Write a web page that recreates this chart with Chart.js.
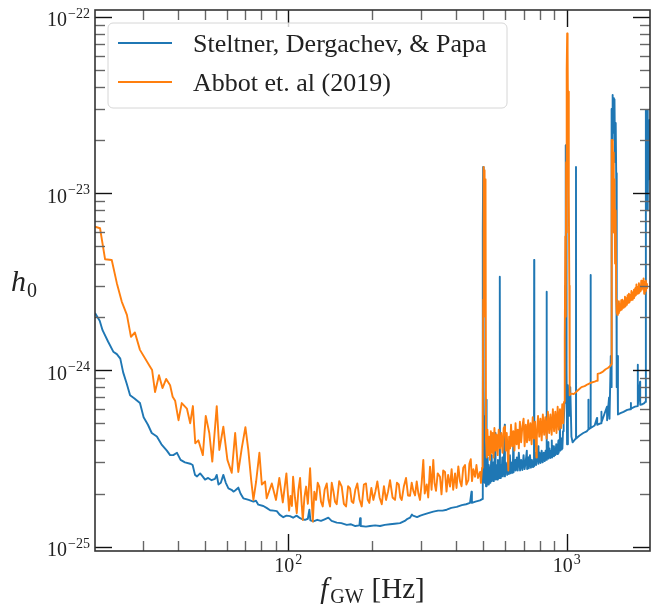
<!DOCTYPE html>
<html>
<head>
<meta charset="utf-8">
<script src="https://cdn.jsdelivr.net/npm/chart.js@4.4.1/dist/chart.umd.min.js"></script>
<style>
  html, body { margin: 0; padding: 0; background: #fff; }
  canvas { display: block; }
</style>
</head>
<body>
<canvas id="chart" width="652" height="606"></canvas>
<script>
// series labels
const seriesLabels = ['Steltner, Dergachev, & Papa', 'Abbot et. al (2019)'];
const seriesColors = ['#1f77b4', '#ff7f0e'];

// [frequency in Hz, h0 in units of 1e-25]
const steltnerPoints = [
  [20.2, 21.0], [21.0, 19.0], [21.5, 16.8], [22.5, 14.5], [23.5, 12.7], [24.2, 12.3], [24.9, 11.6], [25.5, 9.7],
  [26.3, 8.3], [27.0, 7.2], [28.0, 6.9], [29.3, 6.5], [30.2, 5.4], [31.3, 4.9], [32.3, 4.4], [33.7, 4.2],
  [35.0, 3.8], [36.6, 3.5], [37.6, 3.3], [38.6, 3.3], [39.8, 3.4], [41.0, 3.1], [42.5, 3.0], [44.4, 2.95],
  [45.3, 2.9], [46.2, 2.55], [47.0, 2.5], [48.2, 2.6], [49.2, 2.5], [50.2, 2.4], [51.5, 2.45], [53.0, 2.38],
  [54.5, 2.42], [55.3, 2.55], [56.1, 2.25], [57.2, 2.3], [58.4, 2.55], [59.6, 2.3], [60.9, 2.14], [62.5, 2.1],
  [63.5, 2.05], [64.4, 2.08], [66.1, 2.16], [67.3, 2.0], [68.9, 1.88], [70.5, 1.86], [72.0, 1.84], [74.9, 1.8],
  [76.5, 1.82], [78.0, 1.73], [81.3, 1.7], [83.5, 1.66], [86.0, 1.61], [88.5, 1.6], [90.9, 1.59], [93.0, 1.52],
  [95.9, 1.47], [98.5, 1.5], [101.4, 1.49], [104.0, 1.46], [107.0, 1.5], [110.2, 1.45], [112.5, 1.43], [114.8, 1.42],
  [117.5, 1.44], [119.0, 1.62], [120.0, 1.41], [123.0, 1.39], [127.0, 1.42], [131.0, 1.4], [135.0, 1.43], [139.2, 1.46],
  [143.0, 1.4], [149.2, 1.37], [155.0, 1.36], [162.1, 1.33], [168.0, 1.34], [174.0, 1.31], [180.0, 1.32], [181.0, 1.45],
  [182.0, 1.31], [190.0, 1.3], [196.6, 1.31], [205.0, 1.32], [213.5, 1.31], [222.0, 1.33], [231.9, 1.34], [241.0, 1.35],
  [251.9, 1.36], [262.0, 1.4], [268.0, 1.44], [273.6, 1.46], [278.0, 1.52], [280.5, 1.5], [290.0, 1.47], [298.0, 1.5],
  [305.4, 1.52], [318.0, 1.55], [331.7, 1.58], [345.0, 1.6], [358.0, 1.6], [370.7, 1.62], [385.0, 1.66], [402.7, 1.68],
  [420.0, 1.72], [435.0, 1.74], [449.5, 1.77], [455.0, 2.05], [456.5, 1.77], [470.0, 1.8], [488.3, 1.83], [497.0, 1.86],
  [499.0, 4.0], [500.0, 60], [501.0, 141], [502.0, 70], [503.0, 120], [504.0, 8], [505.5, 2.6], [507, 5.5],
  [508, 2.3], [510, 4.0], [511, 2.4], [512, 3.4], [513, 2.2], [515, 6.8], [516, 2.25], [518, 3.0],
  [520, 3.2], [522, 2.25], [525, 2.9], [527, 2.3], [530, 2.8], [532, 2.3], [536, 3.3], [538, 2.35],
  [542, 2.7], [545, 3.0], [547, 2.35], [550, 2.8], [553, 4.4], [555, 2.4], [559, 2.9], [562, 2.4],
  [566, 3.1], [569, 2.45], [574, 2.45], [575, 33.7], [576, 2.45], [580, 2.9], [583, 2.5], [587, 3.2],
  [590, 2.5], [594, 2.9], [599, 4.9], [600, 2.5], [604, 3.0], [609, 2.8], [611, 2.55], [616, 3.1],
  [620, 2.58], [625, 3.3], [630, 2.6], [636, 3.0], [640, 2.62], [643, 3.9], [645, 2.65], [650, 3.0],
  [654, 3.1], [656, 2.7], [662, 3.2], [667, 2.7], [673, 3.4], [680, 2.7], [686, 3.1], [693, 2.72],
  [700, 3.3], [706, 2.75], [712, 3.0], [719, 3.5], [721, 2.75], [729, 3.2], [731, 2.78], [738, 3.3],
  [744, 2.8], [750, 3.1], [756, 2.82], [763, 2.85], [764, 42], [765, 2.87], [771, 3.4], [777, 2.9],
  [784, 3.3], [790, 3.7], [792, 2.95], [799, 3.4], [806, 2.98], [813, 3.5], [820, 3.0], [827, 3.4],
  [834, 3.05], [840, 3.5], [846, 3.1], [847, 27.7], [848, 3.1], [853, 3.5], [858, 3.9], [860, 3.15],
  [867, 3.6], [874, 3.18], [880, 3.5], [884, 4.0], [886, 3.2], [893, 3.7], [900, 3.25], [906, 3.6],
  [910, 3.3], [917, 3.8], [924, 3.35], [930, 3.7], [934, 4.0], [936, 3.4], [941, 3.9], [945, 5.2],
  [948, 3.5], [954, 4.1], [959, 3.55], [965, 3.6], [970, 4.5], [975, 5.0], [982, 6.5], [986, 8.1],
  [989, 30], [991, 187], [993, 40], [996, 120], [999, 10], [1003, 3.8], [1010, 8.2], [1020, 5.5],
  [1030, 8.0], [1040, 4.2], [1050, 3.9], [1079, 4.1], [1080, 141], [1081, 4.1], [1110, 4.25], [1147, 4.4],
  [1180, 4.5], [1195, 4.6], [1196, 6.8], [1198, 4.6], [1218, 4.7], [1219, 34.5], [1220, 4.7], [1260, 4.85],
  [1285, 5.36], [1287, 4.9], [1330, 5.0], [1332, 5.8], [1334, 5.05], [1395, 6.2], [1397, 5.2], [1420, 7.0],
  [1425, 5.3], [1440, 12], [1447, 8], [1450, 300], [1455, 200], [1460, 360], [1465, 250], [1470, 345],
  [1478, 220], [1485, 340], [1492, 150], [1500, 250], [1506, 130], [1510, 19], [1515, 8], [1522, 12],
  [1528, 5.6], [1560, 5.7], [1600, 5.8], [1650, 5.95], [1690, 6.0], [1700, 6.5], [1702, 6.05], [1760, 6.2],
  [1799, 6.25], [1800, 10.7], [1802, 6.3], [1835, 8.6], [1837, 6.35], [1870, 6.4], [1900, 6.5], [1915, 6.6],
  [1925, 296], [1935, 150], [1945, 296], [1955, 80], [1965, 250], [1975, 120], [1985, 260], [1992, 200]
];

// [frequency in Hz, h0 in units of 1e-25]
const abbotPoints = [
  [20.2, 64.7], [21.06, 63.4], [21.96, 42.3], [23.2, 41.9], [24.2, 31], [25.2, 24.4], [26.3, 20.5], [27.2, 15.4],
  [28.1, 16.3], [29.3, 13.0], [31.9, 10.4], [32.4, 10.0], [33.2, 7.5], [34.3, 9.35], [35.3, 7.9], [36.4, 8.9],
  [37.6, 8.2], [38.4, 7.06], [39.2, 6.7], [40.3, 5.2], [41.4, 6.5], [43.2, 6.05], [44.4, 5.0], [45.4, 6.25],
  [46.3, 3.85], [47.5, 4.0], [49.3, 3.3], [50.5, 5.5], [52.0, 4.4], [53.3, 3.03], [55.3, 6.25], [56.5, 3.53],
  [58.4, 4.78], [60.4, 3.1], [62.6, 2.62], [64.4, 4.4], [66.1, 2.65], [68.0, 3.6], [70.1, 4.75], [71.8, 3.53],
  [73.5, 2.4], [74.9, 1.84], [76.6, 2.34], [78.7, 3.4], [80.3, 2.25], [82.5, 2.34], [83.6, 1.88], [87.2, 2.28],
  [90.3, 1.84], [92.8, 2.45], [95.5, 1.78], [98.4, 2.6], [100.6, 1.6], [101.8, 1.94], [103, 1.7], [104.0, 2.49],
  [105.6, 1.9], [107.2, 1.55], [108.7, 2.1], [110.2, 2.45], [111.5, 1.8], [112.7, 1.42], [114.2, 1.9], [115.8, 2.19],
  [117.5, 1.75], [119.7, 2.78], [121, 2.0], [122.4, 1.39], [124, 2.05], [125.8, 1.84], [127.5, 2.3], [129.2, 2.19],
  [131, 1.8], [132.9, 1.69], [135, 2.1], [137.4, 2.28], [139.3, 1.85], [141.2, 1.69], [143.2, 2.3], [145.1, 2.07],
  [147.1, 1.8], [149.2, 1.74], [152.3, 2.35], [155.5, 2.19], [158.3, 1.75], [161.2, 1.69], [163.9, 2.2], [166.6, 2.14],
  [168.9, 1.8], [171.2, 1.77], [174, 2.1], [176.9, 2.28], [180.2, 1.85], [183.5, 1.69], [186.8, 2.25], [190.1, 2.28],
  [192.7, 1.85], [195.4, 1.77], [198.7, 2.15], [202.0, 1.84], [205.4, 2.05], [208.8, 2.34], [212.7, 1.9], [216.6, 1.74],
  [220.5, 2.2], [224.4, 1.84], [228.1, 2.05], [231.9, 2.38], [236.8, 1.9], [241.7, 1.84], [245.5, 2.3], [249.3, 2.25],
  [252.4, 1.9], [255.5, 1.84], [260.1, 2.2], [264.7, 2.45], [269.1, 1.95], [273.6, 1.94], [277.4, 2.3], [281.2, 2.07],
  [285.2, 1.95], [289.2, 2.34], [293.2, 2.0], [297.2, 1.84], [301.3, 2.3], [305.4, 3.1], [309, 2.0], [314.2, 2.25],
  [318, 1.9], [322.8, 2.84], [327, 2.1], [331.7, 3.1], [335, 2.3], [339.2, 2.07], [344, 2.6], [350.6, 2.49],
  [355, 1.98], [360, 2.7], [365.4, 2.65], [370, 2.05], [375, 2.55], [380.9, 2.19], [386, 2.75], [391, 2.1],
  [397.1, 2.6], [402, 2.15], [408, 2.85], [413.9, 2.34], [419, 2.2], [425, 2.8], [431.3, 2.9], [436, 2.25],
  [443.3, 2.38], [447, 2.95], [452.2, 3.13], [457, 2.35], [462, 2.75], [468.5, 2.49], [474, 2.9], [480, 2.45],
  [488.3, 2.65], [492, 2.3], [496.5, 2.8], [499, 3.0], [501, 25], [503, 141], [505, 40], [507, 135],
  [509, 20], [511, 120], [513, 4.0], [516, 3.2], [519, 4.6], [522, 3.3], [526, 4.2], [530, 3.1],
  [534, 4.5], [538, 3.4], [542, 4.4], [546, 3.2], [550, 4.7], [555, 3.5], [560, 4.3], [565, 3.3],
  [570, 4.6], [576, 3.6], [582, 4.4], [588, 3.4], [594, 4.7], [600, 4.8], [604, 3.5], [609, 4.4],
  [614, 3.3], [617, 2.7], [621, 4.2], [626, 3.6], [631, 4.9], [637, 3.7], [643, 4.5], [649, 3.5],
  [655, 5.0], [661, 3.8], [667, 4.6], [673, 3.6], [679, 5.1], [686, 3.9], [693, 4.8], [700, 5.3],
  [706, 3.7], [713, 4.9], [720, 3.9], [727, 5.2], [734, 4.0], [741, 5.0], [748, 3.8], [755, 5.4],
  [762, 4.1], [770, 5.1], [778, 3.2], [781, 4.2], [789, 5.5], [797, 4.2], [805, 5.3], [813, 4.0],
  [821, 5.6], [830, 4.3], [838, 5.4], [847, 4.1], [856, 5.8], [865, 4.4], [874, 5.6], [883, 4.3],
  [892, 6.0], [901, 4.5], [910, 5.8], [919, 4.4], [928, 6.2], [937, 4.6], [946, 6.0], [955, 4.7],
  [964, 6.4], [972, 5.0], [978, 6.6], [982, 8], [986, 15], [989, 57], [992, 20], [995, 150],
  [998, 60], [1002, 500], [1004, 803], [1006, 300], [1009, 650], [1012, 200], [1016, 376], [1019, 100],
  [1022, 30], [1025, 7.2], [1030, 7.3], [1045, 7.35], [1060, 7.3], [1080, 7.5], [1100, 7.7], [1130, 8.0],
  [1160, 8.1], [1190, 8.3], [1230, 8.5], [1260, 8.6], [1285, 8.7], [1292, 9.5], [1320, 9.6], [1350, 9.8],
  [1380, 10.1], [1410, 10.3], [1440, 10.6], [1445, 10.8], [1448, 60], [1451, 200], [1454, 90], [1458, 180],
  [1462, 70], [1466, 200], [1470, 100], [1474, 170], [1478, 60], [1485, 120], [1492, 40], [1500, 80],
  [1506, 25], [1510, 21], [1515, 24], [1520, 20.5], [1527, 23], [1533, 21], [1540, 24.5], [1547, 21.5],
  [1555, 23.5], [1562, 21.8], [1570, 24.8], [1578, 22], [1586, 25], [1594, 22.5], [1602, 24.5], [1610, 22.8],
  [1619, 26], [1628, 23], [1637, 25.5], [1646, 23.4], [1655, 26.5], [1664, 24], [1673, 27], [1682, 24.2],
  [1691, 26.5], [1700, 24.8], [1709, 28], [1718, 25], [1727, 27.5], [1736, 25.5], [1745, 28.5], [1754, 26],
  [1763, 29], [1772, 26.5], [1781, 30.5], [1790, 27], [1799, 29.5], [1808, 27.2], [1817, 31], [1826, 27.5],
  [1835, 30], [1844, 28], [1853, 32], [1862, 28.5], [1871, 31], [1880, 29], [1889, 33], [1898, 27],
  [1907, 31.5], [1916, 28], [1925, 32], [1934, 29], [1943, 31]
];

// axis limits and ticks
const xLimits = [20.2, 1992];
const yLimits = [0.946e-25, 1.089e-22];
const xMajorTicks = [100, 1000];
const yMajorTicks = [1e-25, 1e-24, 1e-23, 1e-22];

const SERIF = '"Liberation Serif", "DejaVu Serif", serif';
const H_UNIT = 1e-25;

function toXY(points) {
  return points.map(p => ({x: p[0], y: p[1] * H_UNIT}));
}

function minorsOf(lo, hi) {
  let out = [];
  let start = Math.pow(10, Math.floor(Math.log10(lo)));
  for (let d = start; d < hi; d *= 10) {
    for (let m = 2; m <= 9; m++) {
      let v = m * d;
      if (v > lo && v < hi) out.push(v);
    }
  }
  return out;
}

function drawPower(ctx, exp, x, mainBase, supBase, align) {
  const base = '10';
  const sup = exp < 0 ? '\u2212' + (-exp) : String(exp);
  ctx.font = '20px ' + SERIF;
  const wb = ctx.measureText(base).width;
  ctx.font = '14px ' + SERIF;
  const ws = ctx.measureText(sup).width;
  const w = wb + 1 + ws;
  const left = align === 'right' ? x - w : x - w / 2;
  ctx.textAlign = 'left';
  ctx.textBaseline = 'alphabetic';
  ctx.font = '20px ' + SERIF;
  ctx.fillText(base, left, mainBase);
  ctx.font = '14px ' + SERIF;
  ctx.fillText(sup, left + wb + 1, supBase);
}

const axesDecor = {
  id: 'axesDecor',
  afterDraw(chart) {
    const ctx = chart.ctx;
    const a = chart.chartArea;
    const xs = chart.scales.x, ys = chart.scales.y;
    ctx.save();

    // inward ticks on all four sides
    const tick = (x1, y1, x2, y2) => {
      ctx.beginPath();
      ctx.moveTo(x1, y1);
      ctx.lineTo(x2, y2);
      ctx.stroke();
    };
    const majorLen = 17, minorLen = 10;
    ctx.lineWidth = 1.4;

    ctx.strokeStyle = '#666';
    minorsOf(xLimits[0], xLimits[1]).forEach(v => {
      const px = Math.round(xs.getPixelForValue(v)) + 0.5;
      tick(px, a.bottom, px, a.bottom - minorLen);
      tick(px, a.top, px, a.top + minorLen);
    });
    minorsOf(yLimits[0], yLimits[1]).forEach(v => {
      const py = Math.round(ys.getPixelForValue(v)) + 0.5;
      tick(a.left, py, a.left + minorLen, py);
      tick(a.right, py, a.right - minorLen, py);
    });

    ctx.strokeStyle = '#111';
    xMajorTicks.forEach(v => {
      const px = Math.round(xs.getPixelForValue(v)) + 0.5;
      tick(px, a.bottom, px, a.bottom - majorLen);
      tick(px, a.top, px, a.top + majorLen);
    });
    yMajorTicks.forEach(v => {
      const py = Math.round(ys.getPixelForValue(v)) + 0.5;
      tick(a.left, py, a.left + majorLen, py);
      tick(a.right, py, a.right - majorLen, py);
    });

    // frame
    ctx.strokeStyle = '#333';
    ctx.lineWidth = 1.6;
    ctx.strokeRect(a.left, a.top, a.right - a.left, a.bottom - a.top);

    // tick labels
    ctx.fillStyle = '#222';
    xMajorTicks.forEach(v => {
      drawPower(ctx, Math.round(Math.log10(v)), xs.getPixelForValue(v), a.bottom + 21, a.bottom + 13, 'center');
    });
    yMajorTicks.forEach(v => {
      const py = ys.getPixelForValue(v);
      drawPower(ctx, Math.round(Math.log10(v)), a.left - 5, py + 9.5, py + 1, 'right');
    });

    // x axis title: f_GW [Hz]
    ctx.font = 'italic 29px ' + SERIF;
    const wf = ctx.measureText('f').width;
    ctx.font = '20px ' + SERIF;
    const wsub = ctx.measureText('GW').width;
    ctx.font = '29px ' + SERIF;
    const wunit = ctx.measureText('[Hz]').width;
    const total = wf + 2 + wsub + 8 + wunit;
    let tx = (a.left + a.right) / 2 - total / 2;
    const tb = 598;
    ctx.font = 'italic 29px ' + SERIF;
    ctx.fillText('f', tx, tb);
    ctx.font = '20px ' + SERIF;
    ctx.fillText('GW', tx + wf + 2, tb + 5);
    ctx.font = '29px ' + SERIF;
    ctx.fillText('[Hz]', tx + wf + 2 + wsub + 8, tb);

    // y axis title: h_0
    const hy = (a.top + a.bottom) / 2 + 10;
    ctx.font = 'italic 30px ' + SERIF;
    ctx.fillText('h', 11, hy);
    const wh = ctx.measureText('h').width;
    ctx.font = '20px ' + SERIF;
    ctx.fillText('0', 11 + wh + 1, hy + 6);

    // legend box
    const lx = 108, ly = 23, lw = 399, lh = 85, r = 5;
    ctx.beginPath();
    ctx.moveTo(lx + r, ly);
    ctx.arcTo(lx + lw, ly, lx + lw, ly + lh, r);
    ctx.arcTo(lx + lw, ly + lh, lx, ly + lh, r);
    ctx.arcTo(lx, ly + lh, lx, ly, r);
    ctx.arcTo(lx, ly, lx + lw, ly, r);
    ctx.closePath();
    ctx.fillStyle = 'rgba(255,255,255,0.8)';
    ctx.fill();
    ctx.strokeStyle = '#d6d6d6';
    ctx.lineWidth = 1;
    ctx.stroke();

    const rows = [43, 82];
    chart.data.datasets.forEach((ds, i) => {
      ctx.strokeStyle = ds.borderColor;
      ctx.lineWidth = 2;
      ctx.beginPath();
      ctx.moveTo(118, rows[i]);
      ctx.lineTo(172, rows[i]);
      ctx.stroke();
      ctx.fillStyle = '#222';
      ctx.font = '26px ' + SERIF;
      ctx.textAlign = 'left';
      ctx.textBaseline = 'alphabetic';
      ctx.fillText(ds.label, 193, rows[i] + 9);
    });

    ctx.restore();
  }
};

new Chart(document.getElementById('chart'), {
  type: 'scatter',
  data: {
    datasets: [
      {
        label: seriesLabels[0],
        data: toXY(steltnerPoints),
        borderColor: seriesColors[0],
        showLine: true,
        borderWidth: 1.9,
        pointRadius: 0,
        order: 2
      },
      {
        label: seriesLabels[1],
        data: toXY(abbotPoints),
        borderColor: seriesColors[1],
        showLine: true,
        borderWidth: 1.9,
        pointRadius: 0,
        order: 1
      }
    ]
  },
  options: {
    responsive: false,
    animation: false,
    devicePixelRatio: 1,
    layout: {padding: {left: 95, right: 2, top: 10, bottom: 55}},
    elements: {line: {tension: 0, borderJoinStyle: 'round', borderCapStyle: 'butt'}},
    scales: {
      x: {type: 'logarithmic', min: xLimits[0], max: xLimits[1], display: false},
      y: {type: 'logarithmic', min: yLimits[0], max: yLimits[1], display: false}
    },
    plugins: {
      legend: {display: false},
      tooltip: {enabled: false}
    }
  },
  plugins: [axesDecor]
});
</script>
</body>
</html>
